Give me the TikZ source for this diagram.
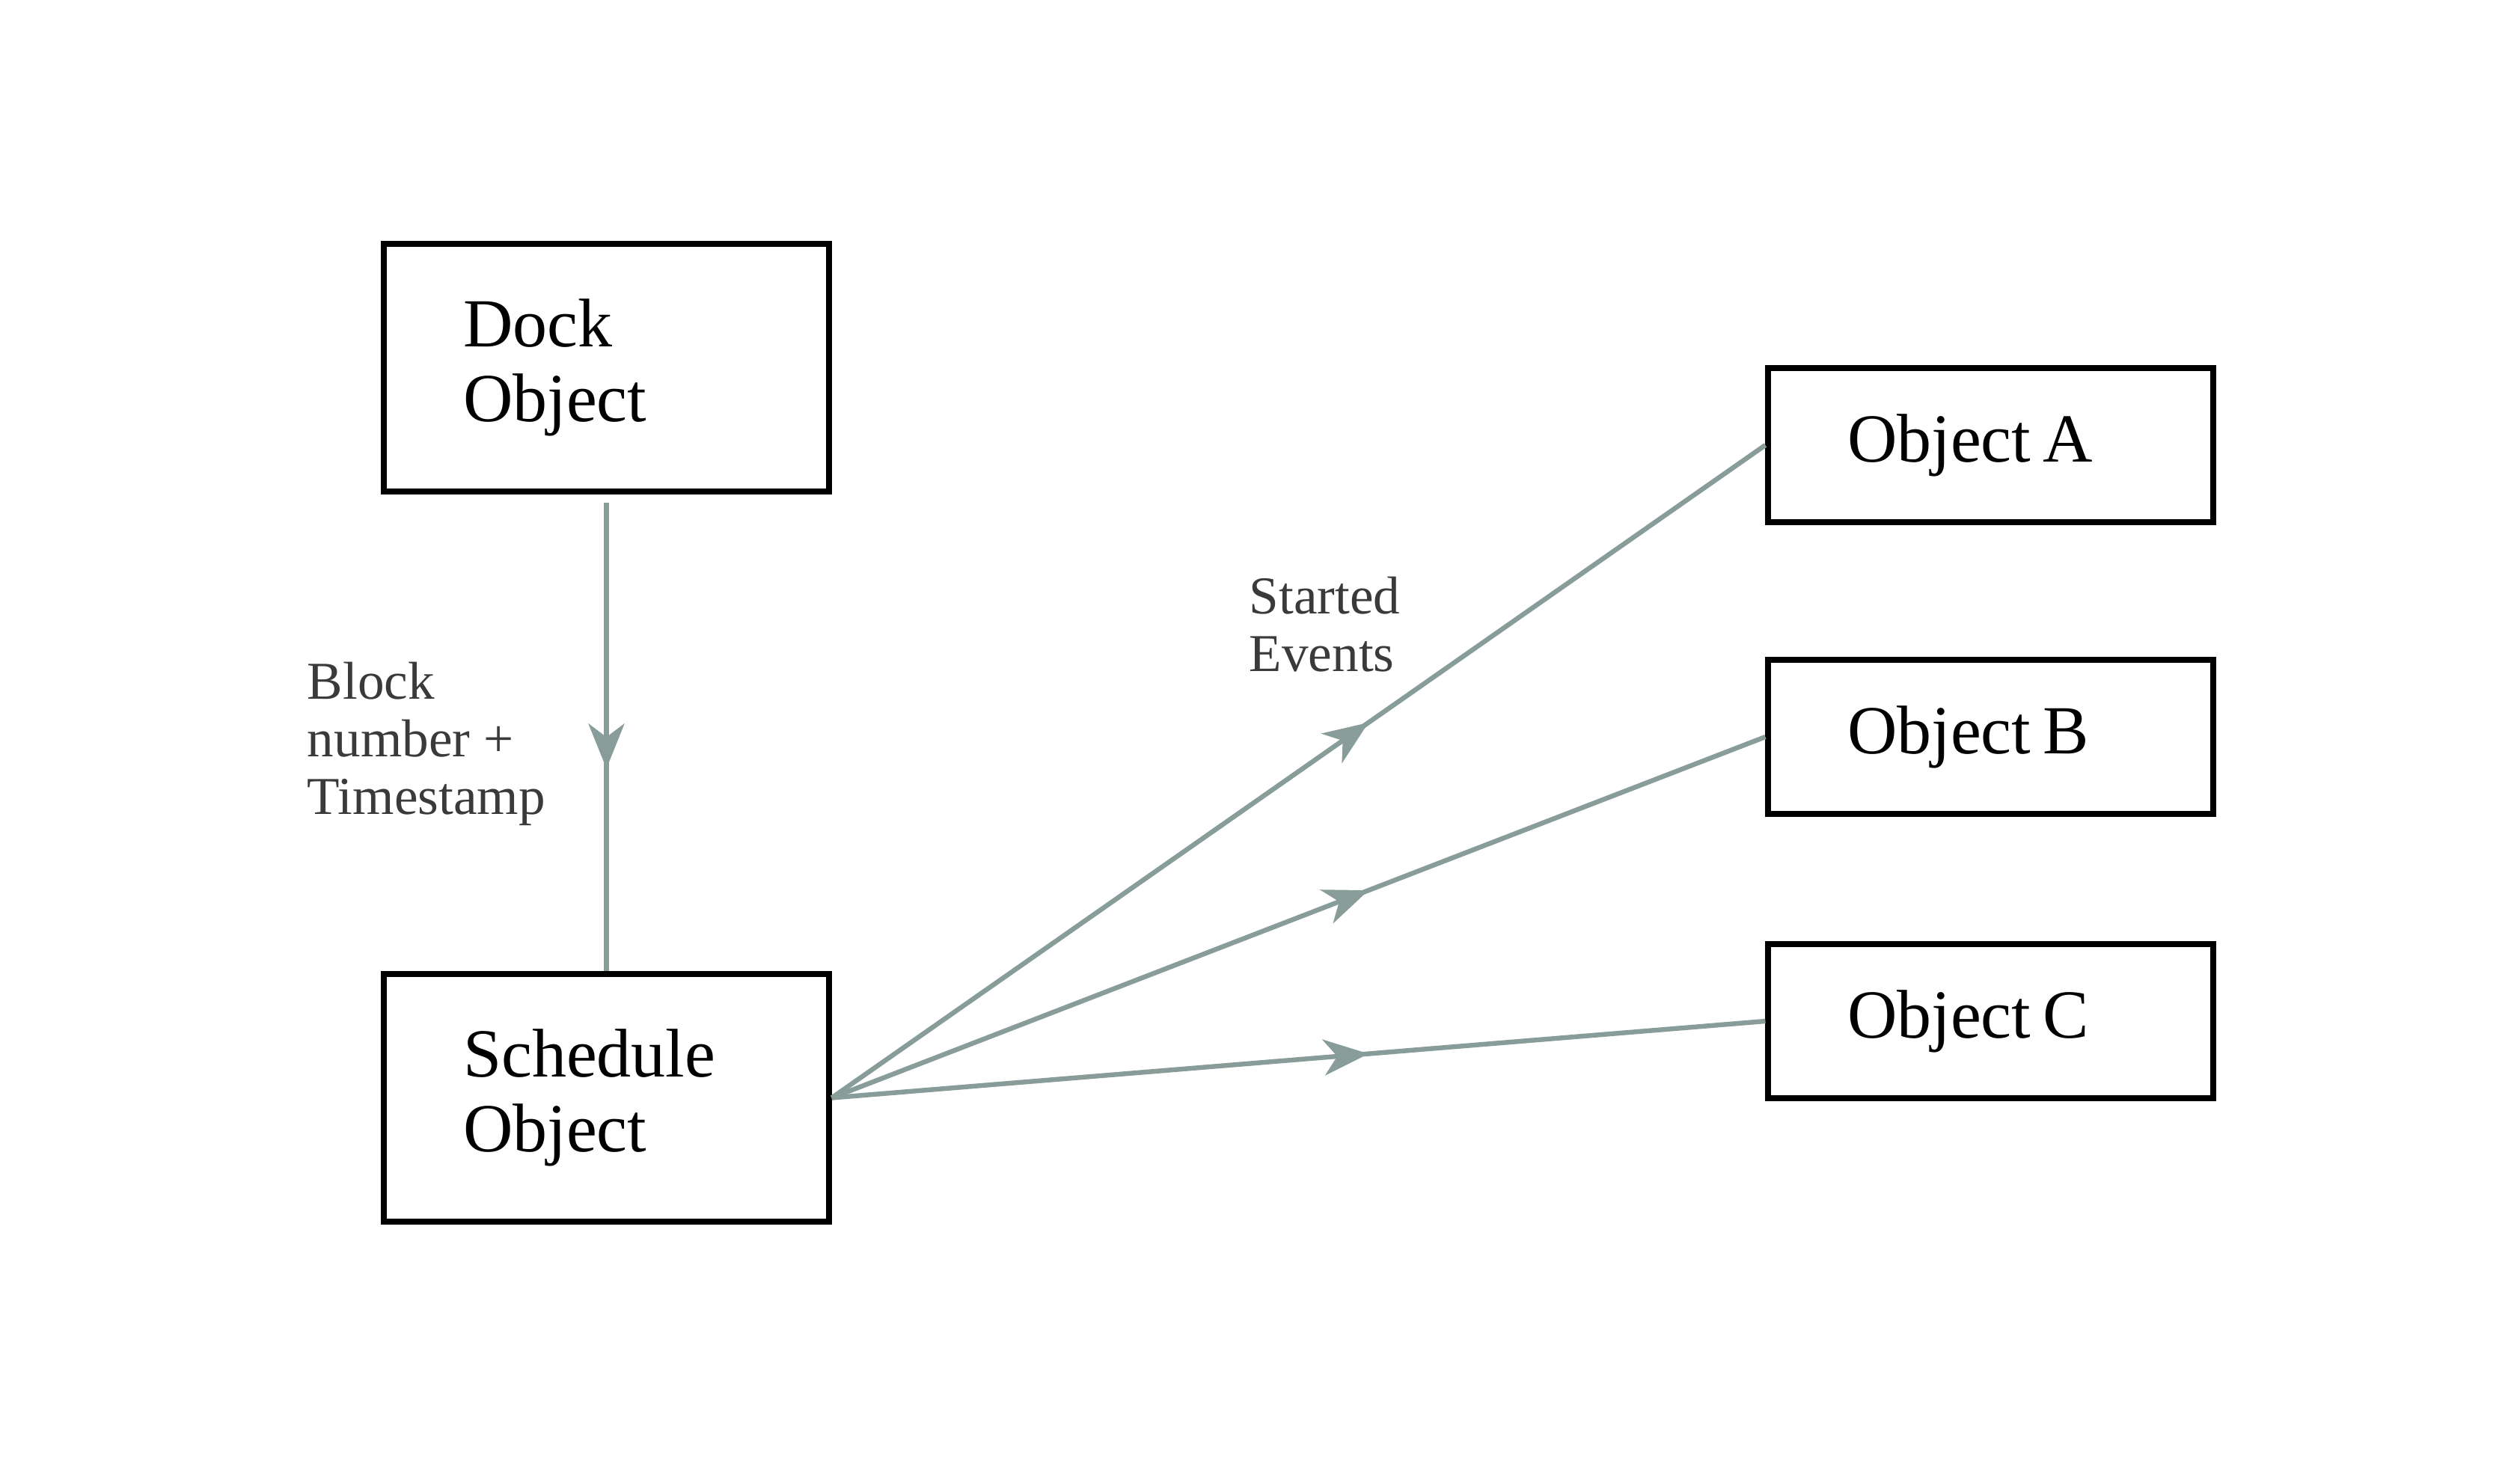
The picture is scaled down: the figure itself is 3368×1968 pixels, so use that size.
\documentclass[tikz,border=0pt]{standalone}
\usepackage{fontspec}
\setmainfont{Liberation Serif}
\usetikzlibrary{arrows.meta,decorations.markings}
\definecolor{linecol}{HTML}{889C99}
\definecolor{labcol}{HTML}{3A3A3A}
\begin{document}
\begin{tikzpicture}[x=0.25pt,y=-0.25pt,
  box/.style={draw=black,line width=1.8pt,fill=white,rectangle,minimum width=148.75pt,
    text width=95.75pt,inner xsep=26.5pt,inner ysep=0pt,align=left,
    font=\fontsize{23}{25}\selectfont},
  bigbox/.style={box,minimum height=82.75pt},
  smallbox/.style={box,minimum height=51.5pt},
  lab/.style={text=labcol,align=left,inner sep=0pt,anchor=north west,
    font=\fontsize{17.8}{19.3}\selectfont},
  flow/.style={draw=linecol,line width=1.6pt,
    postaction={decorate},
    decoration={markings,mark=at position 0.575 with {\arrow[linecol]{Stealth[length=15pt,width=12pt,inset=4.5pt]}}}}
]
\useasboundingbox (0,0) rectangle (3368,1968);
\node[bigbox] (dock) at (810.5,491.5) {Dock\\Object};
\node[bigbox] (sched) at (810.5,1467.5) {Schedule\\Object};
\node[smallbox] (oa) at (2660.5,595) {Object\hspace{4pt}A};
\node[smallbox] (ob) at (2660.5,985) {Object\hspace{4pt}B};
\node[smallbox] (oc) at (2660.5,1365) {Object\hspace{4pt}C};
\node[lab] (l1) at (410,884) {Block\\number +\\Timestamp};
\node[lab] (l2) at (1669,770) {Started\\Events};
\draw[flow,shorten <=2.75pt] (dock.south) -- (sched.north);
\draw[flow] (sched.east) -- (oa.west);
\draw[flow] (sched.east) -- (ob.west);
\draw[flow] (sched.east) -- (oc.west);
\end{tikzpicture}
\end{document}
